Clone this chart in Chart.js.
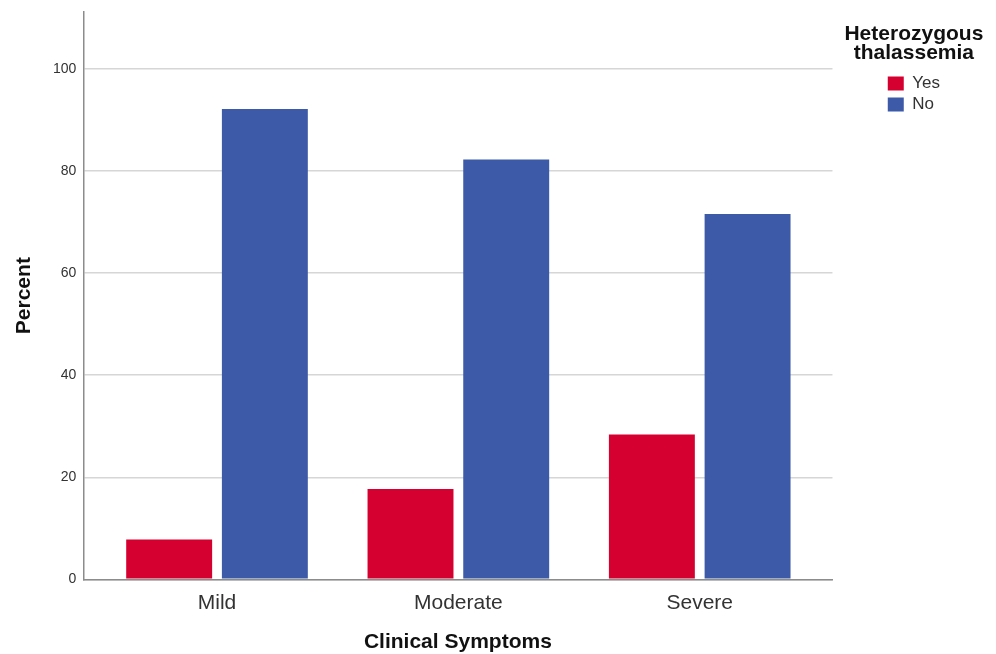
<!DOCTYPE html>
<html>
<head>
<meta charset="utf-8">
<script src="https://cdn.jsdelivr.net/npm/chart.js@4"></script>
<style>
html,body{margin:0;padding:0;background:#fff;}
canvas{display:block;}
</style>
</head>
<body>
<canvas id="c" width="996" height="654"></canvas>
<script>
const categories = ['Mild', 'Moderate', 'Severe'];
const seriesNames = ['Yes', 'No'];
const yesValues = [7.8, 17.7, 28.4];
const noValues = [92.2, 82.3, 71.6];
const yTicks = [0, 20, 40, 60, 80, 100];
const legendTitleLines = ['Heterozygous', 'thalassemia'];

const FONT = "'Liberation Sans', Arial, sans-serif";

const toPoints = vals => vals.map((v, i) => ({x: i, y: v}));

// Draws the two-line legend title centred over the legend box (Chart.js clips its own legend title to the box).
const legendTitlePlugin = {
  id: 'legendTitleLines',
  afterDraw(chart, args, opts) {
    const lg = chart.legend;
    if (!lg) return;
    const ctx = chart.ctx;
    ctx.save();
    ctx.font = 'bold ' + opts.size + 'px ' + FONT;
    ctx.fillStyle = opts.color;
    ctx.textAlign = 'center';
    ctx.textBaseline = 'middle';
    const cx = lg.left + lg.width / 2 + opts.dx;
    opts.lines.forEach((t, i) => ctx.fillText(t, cx, lg.top + opts.top + i * opts.lineHeight));
    ctx.restore();
  }
};

new Chart(document.getElementById('c'), {
  type: 'bar',
  data: {
    datasets: [
      {label: seriesNames[0], data: toPoints(yesValues), backgroundColor: '#D5002F', borderWidth: 0},
      {label: seriesNames[1], data: toPoints(noValues), backgroundColor: '#3D5AA8', borderWidth: 0}
    ]
  },
  plugins: [legendTitlePlugin],
  options: {
    responsive: false,
    animation: false,
    devicePixelRatio: 1,
    layout: {padding: {top: 12, right: 46, bottom: 0, left: 0}},
    datasets: {bar: {categoryPercentage: 0.793, barPercentage: 0.898, grouped: true}},
    plugins: {
      tooltip: {enabled: false},
      legendTitleLines: {lines: legendTitleLines, size: 21, color: '#111', top: 22, lineHeight: 19.5, dx: -3},
      legend: {
        position: 'right',
        align: 'start',
        title: {
          display: true,
          text: '',
          font: {family: FONT, size: 20, lineHeight: 1},
          padding: {top: 20, bottom: 19}
        },
        labels: {
          boxWidth: 16,
          boxHeight: 14,
          padding: 4,
          color: '#333',
          font: {family: FONT, size: 17}
        }
      }
    },
    scales: {
      x: {
        type: 'linear',
        offset: false,
        min: -0.554,
        max: 2.55,
        grid: {display: false, drawTicks: false, offset: false},
        border: {display: true, color: '#8c8c8c', width: 1.5},
        ticks: {
          stepSize: 1,
          includeBounds: false,
          padding: 11,
          color: '#333',
          font: {family: FONT, size: 21},
          callback: v => (Number.isInteger(v) && categories[v] !== undefined) ? categories[v] : ''
        },
        title: {
          display: true,
          text: 'Clinical Symptoms',
          color: '#111',
          font: {family: FONT, size: 21, weight: 'bold', lineHeight: 1.2},
          padding: {top: 0, bottom: -1}
        },
        afterFit: s => { s.height = 74.7; s.paddingLeft = 0; s.paddingRight = 0; }
      },
      y: {
        type: 'linear',
        min: 0,
        max: 111.2,
        grid: {color: '#d6d6d6', lineWidth: 1.5, drawTicks: false},
        border: {display: true, color: '#8c8c8c', width: 1.5},
        afterBuildTicks: axis => { axis.ticks = yTicks.map(v => ({value: v})); },
        ticks: {
          includeBounds: false,
          padding: 7,
          color: '#333',
          font: {family: FONT, size: 14}
        },
        title: {
          display: true,
          text: 'Percent',
          color: '#111',
          font: {family: FONT, size: 21, weight: 'bold', lineHeight: 1.2},
          padding: {top: 12, bottom: 0}
        },
        afterFit: s => { s.width = 83.3; s.paddingTop = 0; s.paddingBottom = 0; }
      },
      spacer: {
        type: 'linear',
        position: 'right',
        display: true,
        grid: {display: false, drawTicks: false},
        border: {display: false},
        ticks: {display: false},
        afterFit: s => { s.width = 51.3; }
      }
    }
  }
});
</script>
</body>
</html>
